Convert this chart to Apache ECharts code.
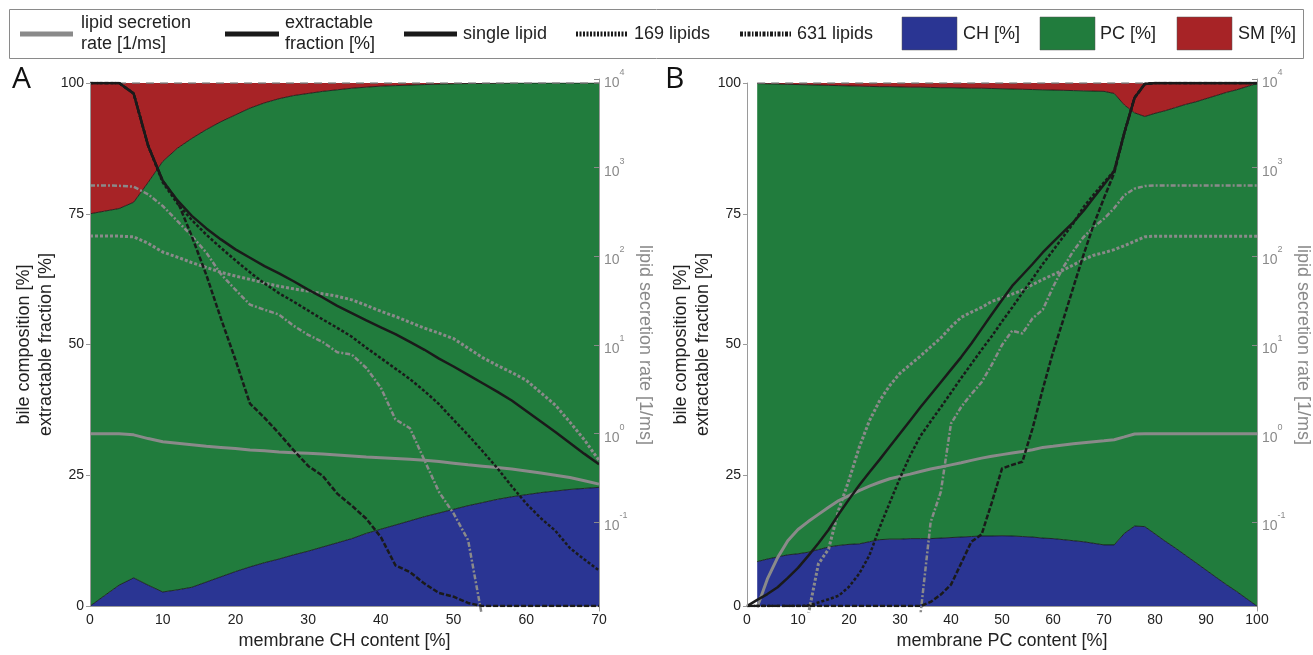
<!DOCTYPE html>
<html>
<head>
<meta charset="utf-8">
<script src="https://cdn.jsdelivr.net/npm/echarts@6/dist/echarts.min.js"></script>
<style>
html,body{margin:0;padding:0;background:#fff;}
#c{width:1313px;height:655px;}
</style>
</head>
<body>
<div id="c"></div>
<script>
// ---------- Panel A: x = membrane CH content [%] ----------
var xA = [0,2,4,6,8,10,12,14,16,18,20,22,24,26,28,30,32,34,36,38,40,42,44,46,48,50,52,54,56,58,60,62,64,66,68,70];
var chA = [0,2,4,5.4,4,2.7,3.1,3.6,4.6,5.6,6.6,7.5,8.3,9.0,9.8,10.5,11.3,12.1,12.9,13.9,14.7,15.5,16.3,17.1,17.8,18.5,19.2,19.8,20.4,20.9,21.3,21.7,22.0,22.3,22.5,22.7];
var pcA = [75,73.5,72,71.8,77,82.3,84.4,85.8,86.5,87.0,87.3,87.7,87.9,88.0,87.8,87.5,87.1,86.6,86.1,85.3,84.7,84.0,83.3,82.6,82.0,81.35,80.7,80.1,79.55,79.1,78.7,78.3,78.0,77.7,77.5,77.3];
var smA = [25,24.5,24,22.8,19,15,12.5,10.6,8.9,7.4,6.1,4.8,3.8,3.0,2.4,2.0,1.6,1.3,1.0,0.8,0.6,0.5,0.4,0.3,0.2,0.15,0.1,0.1,0.05,0,0,0,0,0,0,0];
var extSingleA = [100,100,100,98,88,81.3,77.6,74.6,72.2,70.1,68.2,66.6,65.0,63.6,62.1,60.5,59.0,57.4,56.0,54.6,53.3,52.0,50.5,49.0,47.3,45.8,44.2,42.6,41.0,39.3,37.3,35.3,33.3,31.2,29.1,27.1];
var ext169A = [100,100,100,98,88,81,77,73.8,71,68.5,66.1,63.8,61.7,59.8,58.2,56.5,54.8,53.2,51.5,49.4,47.4,45.4,43.4,41.1,38.6,35.6,32.7,29.6,26.4,22.9,19.6,16.8,14.4,11.1,8.9,6.8];
var ext631A = [100,100,100,98,88,81.3,77.5,70.7,63.3,55,47.1,38.7,36,33,29.8,26.8,24.9,21.5,19.2,16.7,13.2,7.8,6.5,4.3,2.5,1.8,0.6,0,0,0,0,0,0,0,0,0];
var secSingleA = [1.0,1.0,1.0,0.97,0.88,0.81,0.78,0.75,0.72,0.70,0.68,0.655,0.64,0.62,0.61,0.60,0.59,0.575,0.56,0.545,0.535,0.525,0.515,0.50,0.485,0.465,0.445,0.43,0.415,0.40,0.38,0.36,0.34,0.32,0.295,0.27];
var sec169A = [170,170,169,166,140,112,98,85,75,66,60,55,50,46,43,40.5,37.8,35.5,32.3,28,24,21,18,15.5,13.6,11.8,9.2,7.2,5.9,4.9,4.0,2.9,2.1,1.35,0.85,0.5];
var sec631A = [631,631,625,610,500,370,251,170,110,63,42,28.5,25,22,16.5,13,10.8,8.3,7.8,5.5,3.3,1.45,1.15,0.5,0.22,0.126,0.063,0.008,null,null,null,null,null,null,null,null];

// ---------- Panel B: x = membrane PC content [%] ----------
var xB = [0,2,4,6,8,10,12,14,16,18,20,22,24,26,28,30,32,34,36,38,40,42,44,46,48,50,52,54,56,58,60,62,64,66,68,70,72,74,76,78,80,82,84,86,88,90,92,94,96,98,100];
var chB = [null,8.5,9.0,9.4,9.8,10.0,10.3,10.8,11.3,11.6,11.8,11.9,12.3,12.7,12.8,12.8,12.9,12.9,12.9,13.0,13.1,13.2,13.3,13.4,13.4,13.45,13.4,13.3,13.2,13.0,12.9,12.7,12.5,12.3,12.0,11.7,11.7,13.9,15.3,15.2,13.8,12.4,11.1,9.7,8.3,6.9,5.5,4.1,2.8,1.4,0];
var pcB = [null,91.4,90.85,90.4,89.95,89.7,89.35,88.8,88.25,87.9,87.65,87.5,87.05,86.6,86.5,86.45,86.3,86.3,86.25,86.1,86.0,85.85,85.7,85.6,85.55,85.45,85.45,85.5,85.55,85.7,85.75,85.9,86.05,86.2,86.45,86.7,86.3,81.9,79.0,78.4,80.4,82.3,84.2,86.2,88.1,90.1,92.1,94.1,95.9,97.9,99.9];
var smB = [null,0.1,0.15,0.2,0.25,0.3,0.35,0.4,0.45,0.5,0.55,0.6,0.65,0.7,0.7,0.75,0.8,0.8,0.85,0.9,0.9,0.95,1.0,1.0,1.05,1.1,1.15,1.2,1.25,1.3,1.35,1.4,1.45,1.5,1.55,1.6,2.0,4.2,5.7,6.4,5.8,5.3,4.7,4.1,3.6,3.0,2.4,1.8,1.3,0.7,0.1];
var extSingleB = [0,1.2,2.3,3.6,5.4,7.3,9.6,12.0,14.6,17.6,20.4,23.1,25.6,28.0,30.5,33.0,35.5,38.0,40.4,42.8,45.2,47.6,50.2,53.0,55.8,58.5,61.2,63.3,65.4,67.6,69.6,71.5,73.4,75.6,78.1,80.6,83.2,90.5,97.2,99.8,100,100,100,100,100,100,100,100,100,100,100];
var ext169B = [0,0,0,0,0,0,0.1,0.7,1.3,2.0,3.7,6.2,9.7,15,19.8,24.5,28.8,32.5,35.3,38,40.8,43.6,46.3,49,51.6,54.4,57.1,59.9,62.6,65.4,68,70.6,73.2,76.3,78.7,81,83.2,90.5,97.2,99.8,100,100,100,100,100,100,100,100,100,100,100];
var ext631B = [0,0,0,0,0,0,0,0,0,0,0,0,0,0,0,0,0,0,0.8,2.2,4.1,8.2,12.3,13.7,19.8,26.3,27,27.6,34,41.5,48.5,54.7,61,67.2,73,78,82.8,90.5,97.2,99.8,100,100,100,100,100,100,100,100,100,100,100];
var secSingleB = [null,0.011,0.023,0.04,0.062,0.083,0.102,0.123,0.148,0.176,0.2,0.228,0.256,0.283,0.31,0.33,0.35,0.375,0.40,0.42,0.445,0.47,0.50,0.53,0.555,0.58,0.605,0.63,0.66,0.70,0.72,0.745,0.77,0.79,0.81,0.83,0.855,0.92,0.99,1,1,1,1,1,1,1,1,1,1,1,1];
var sec169B = [null,null,null,null,null,null,0.009,0.034,0.05,0.14,0.3,0.7,1.4,2.35,3.5,4.8,6.0,7.5,9.5,12,16,20.5,23.5,26.5,31,34,37.5,41.5,48,55,62,70,80,92,103,110,119,132,148,166,169,169,169,169,169,169,169,169,169,169,169];
var sec631B = [null,null,null,null,null,null,null,null,null,null,null,null,null,null,null,null,null,0.009,0.1,0.22,1.3,2.0,2.8,3.8,6,10,14.5,13.5,20,25,45,75,115,165,215,265,350,490,580,620,631,631,631,631,631,631,631,631,631,631,631];

// ---------- axes ----------
var yTicksLeft = [0,25,50,75,100];
var logExtent = [0.01, 10000];

var FONT = 'Liberation Sans, Arial, sans-serif';
var C_CH = '#2a3593', C_PC = '#217c3d', C_SM = '#a72326';
var C_GREY = '#8a8a8a', C_BLACK = '#1a1a1a';

function vals(ys){ return ys.map(function(v){ return (v===null||v===undefined) ? '-' : v; }); }

function logLabel(v){
  var e = Math.round(Math.log(v)/Math.LN10);
  if (e < -1) return '';
  return '{b|10}{s|' + e + '}';
}

function xAxisDef(grid, cats, name, visible){
  return {
    type:'category', gridIndex:grid, data:cats.map(String), boundaryGap:false, show:visible,
    axisLine:{show:true, onZero:false, lineStyle:{color:'#9a9a9a', width:1}},
    axisTick:{show:false},
    axisLabel:{fontSize:14, color:'#222', margin:7, fontFamily:FONT, interval:4},
    splitLine:{show:false},
    name:name, nameLocation:'middle', nameGap:25,
    nameTextStyle:{fontSize:18, color:'#222', fontFamily:FONT}
  };
}
function yLeftDef(grid){
  return {
    type:'value', gridIndex:grid, min:0, max:100, interval:25, position:'left', z:10,
    axisLine:{show:true, lineStyle:{color:'#9a9a9a', width:1}},
    axisTick:{show:true, inside:false, length:4, lineStyle:{color:'#9a9a9a'}},
    axisLabel:{fontSize:14, color:'#222', margin:6, fontFamily:FONT,
      formatter:function(v){ return yTicksLeft.indexOf(v) >= 0 ? String(v) : ''; }},
    splitLine:{show:false},
    name:'bile composition [%]\nextractable fraction [%]', nameLocation:'middle', nameGap:31,
    nameTextStyle:{fontSize:18, lineHeight:22, color:'#222', fontFamily:FONT}
  };
}
function yRightDef(grid){
  return {
    type:'log', logBase:10, gridIndex:grid, min:logExtent[0], max:logExtent[1], splitNumber:6, position:'right', z:10,
    axisLine:{show:true, lineStyle:{color:'#9a9a9a', width:1}},
    axisTick:{show:true, inside:true, length:5, lineStyle:{color:'#8a8a8a'}},
    axisLabel:{formatter:logLabel, margin:5, showMinLabel:false,
      rich:{ b:{fontSize:14, color:C_GREY, fontFamily:FONT, lineHeight:22, verticalAlign:'bottom'},
             s:{fontSize:9, color:C_GREY, fontFamily:FONT, lineHeight:22, verticalAlign:'top'} }},
    splitLine:{show:false},
    name:'lipid secretion rate [1/ms]', nameLocation:'middle', nameRotate:-90, nameGap:37,
    nameTextStyle:{fontSize:18, color:C_GREY, fontFamily:FONT}
  };
}

function areaSeries(xi, yi, stack, ys, color, edge){
  return {type:'line', xAxisIndex:xi, yAxisIndex:yi, stack:stack, data:vals(ys), symbol:'none',
    lineStyle:edge, areaStyle:{color:color, opacity:1}, z:1, silent:true};
}
function lineSeries(xi, yi, ys, color, width, dash, z){
  return {type:'line', xAxisIndex:xi, yAxisIndex:yi, data:vals(ys), symbol:'none', clip:true,
    lineStyle:{color:color, width:width, type:dash, cap:'butt'}, z:z, silent:true};
}

var edgeThin = {color:'#111', width:0.8};
var edgeTop = {color:'#777', width:1.5, type:[8,6]};
var D169 = [3,2], D631 = [5,2,2,2];

var series = [
  areaSeries(0,0,'A',chA,C_CH,edgeThin),
  areaSeries(0,0,'A',pcA,C_PC,edgeThin),
  areaSeries(0,0,'A',smA,C_SM,edgeTop),
  lineSeries(1,1,secSingleA,C_GREY,3,'solid',3),
  lineSeries(1,1,sec169A,C_GREY,3,D169,3),
  lineSeries(1,1,sec631A,C_GREY,2.5,D631,3),
  lineSeries(0,0,ext169A,C_BLACK,2.5,D169,4),
  lineSeries(0,0,ext631A,C_BLACK,2.5,[5,2],4),
  lineSeries(0,0,extSingleA,C_BLACK,2.5,'solid',5),

  areaSeries(2,2,'B',chB,C_CH,edgeThin),
  areaSeries(2,2,'B',pcB,C_PC,edgeThin),
  areaSeries(2,2,'B',smB,C_SM,edgeTop),
  lineSeries(3,3,secSingleB,C_GREY,3,'solid',3),
  lineSeries(3,3,sec169B,C_GREY,3,D169,3),
  lineSeries(3,3,sec631B,C_GREY,2.5,D631,3),
  lineSeries(2,2,ext169B,C_BLACK,2.5,D169,4),
  lineSeries(2,2,ext631B,C_BLACK,2.5,[5,2],4),
  lineSeries(2,2,extSingleB,C_BLACK,2.5,'solid',5)
];

var legendText = function(x, y, t){ return {type:'text', x:x, y:y, silent:true,
  style:{text:t, fontSize:18, fontFamily:FONT, fill:'#222', verticalAlign:'middle', lineHeight:21}}; };
var legendLine = function(x1, x2, color, dash){ return {type:'line', silent:true,
  shape:{x1:x1, y1:34, x2:x2, y2:34}, style:{stroke:color, lineWidth:5, lineDash:dash}}; };
var legendRect = function(x, color){ return {type:'rect', silent:true,
  shape:{x:x, y:17, width:55, height:33}, style:{fill:color, stroke:'#555', lineWidth:0.5}}; };

var graphic = [
  {type:'rect', silent:true, shape:{x:9.5, y:9.5, width:1294, height:49}, style:{fill:'#fff', stroke:'#8a8a8a', lineWidth:1}, z:-1},
  legendLine(20, 73, C_GREY, null),
  legendText(81, 34, 'lipid secretion\nrate [1/ms]'),
  legendLine(225, 279, C_BLACK, null),
  legendText(285, 34, 'extractable\nfraction [%]'),
  legendLine(404, 457, C_BLACK, null),
  legendText(463, 34, 'single lipid'),
  legendLine(576, 628, C_BLACK, [2,1.5]),
  legendText(634, 34, '169 lipids'),
  legendLine(740, 792, C_BLACK, [3,1.5,1.5,1.5]),
  legendText(797, 34, '631 lipids'),
  legendRect(902, C_CH),
  legendText(963, 34, 'CH [%]'),
  legendRect(1040, C_PC),
  legendText(1100, 34, 'PC [%]'),
  legendRect(1177, C_SM),
  legendText(1238, 34, 'SM [%]'),
  {type:'text', x:12, y:64, silent:true, style:{text:'A', fontSize:30, fontFamily:'Open Sans, sans-serif', fill:'#111'}},
  {type:'text', x:665, y:64, silent:true, style:{text:'B', fontSize:30, fontFamily:'Open Sans, sans-serif', fill:'#111'}}
];

var option = {
  animation:false,
  backgroundColor:'#fff',
  textStyle:{fontFamily:FONT},
  grid:[
    {left:90, width:509, top:83, height:528},
    {left:90, width:509, top:79, height:532},
    {left:747, width:510, top:83, height:528},
    {left:747, width:510, top:79, height:532}
  ],
  xAxis:[
    xAxisDef(0, xA, 'membrane CH content [%]', true),
    xAxisDef(1, xA, '', false),
    xAxisDef(2, xB, 'membrane PC content [%]', true),
    xAxisDef(3, xB, '', false)
  ],
  yAxis:[ yLeftDef(0), yRightDef(1), yLeftDef(2), yRightDef(3) ],
  series:series,
  graphic:graphic
};

var chart = echarts.init(document.getElementById('c'), null, {renderer:'canvas'});
chart.setOption(option);
</script>
</body>
</html>
